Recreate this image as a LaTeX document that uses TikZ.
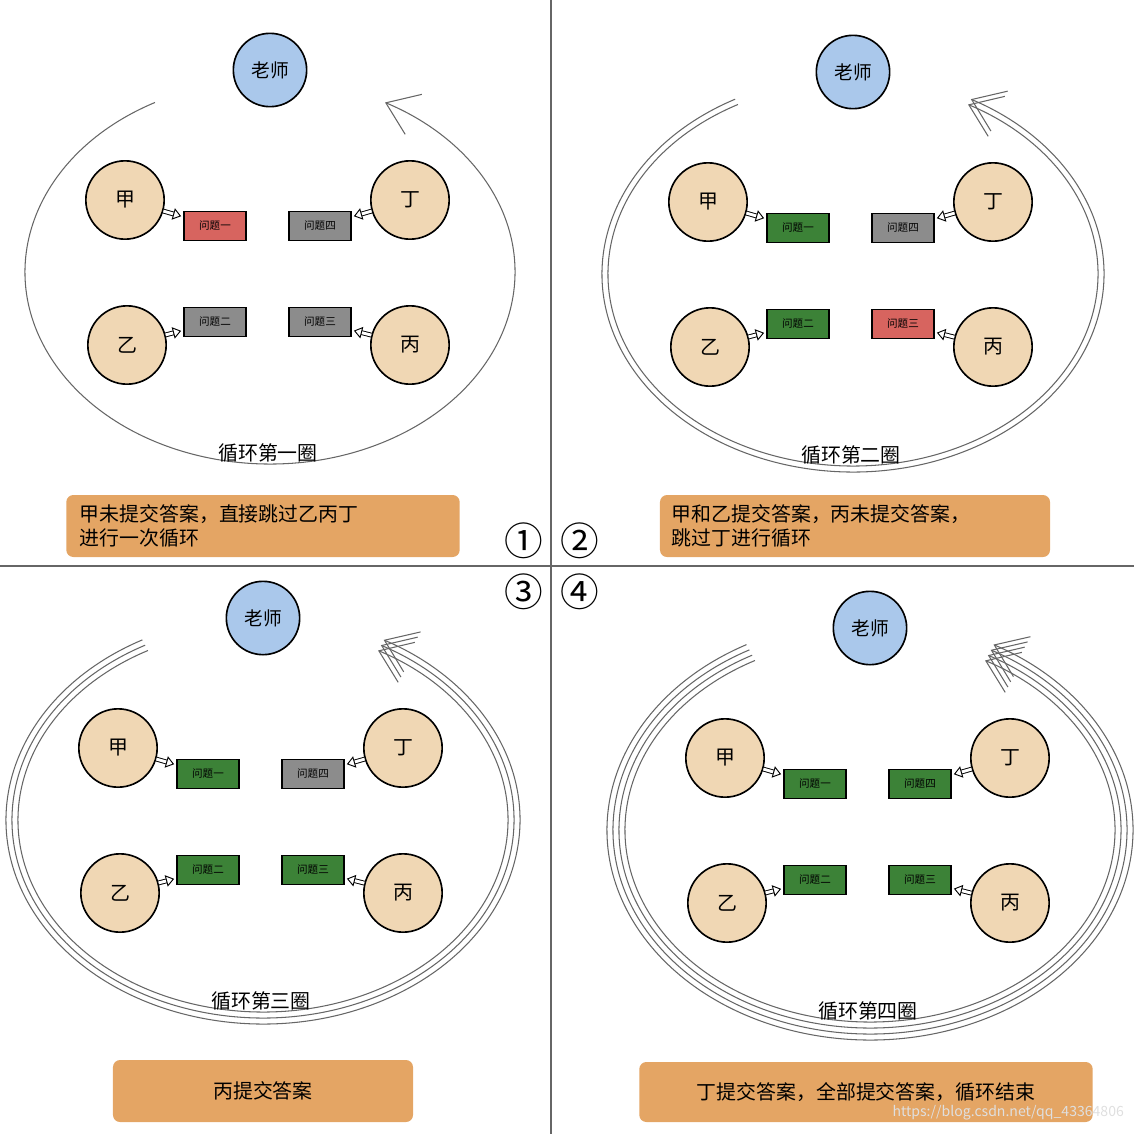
\documentclass[tikz,border=0pt]{standalone}
\usepackage{fontspec}
\setmainfont{Noto Sans CJK SC}
\usetikzlibrary{arrows.meta}
\definecolor{skin}{RGB}{240,215,180}
\definecolor{sky}{RGB}{170,200,235}
\definecolor{wrong}{RGB}{215,100,95}
\definecolor{done}{RGB}{60,130,55}
\definecolor{wait}{RGB}{140,140,140}
\definecolor{note}{RGB}{228,165,100}
\newcommand{\quarter}[8]{%%
  \begin{scope}[shift={#2}]
  %% The loop rings.
  \foreach \k in {1,...,#8}{
    \draw[ringStyle] (270,272) ++(242:{245+6*(\k-1)} and {192+6*(\k-1)})
      arc[start angle=242,end angle=-62,x radius={245+6*(\k-1)},y radius={192+6*(\k-1)}];
  };
  \node[teacherStyle] (#1t) at (270,70) {老师};
  \node[studentStyle] (#1a) at (125,200) {甲};
  \node[studentStyle] (#1d) at (410,200) {丁};
  \node[studentStyle] (#1b) at (127,345) {乙};
  \node[studentStyle] (#1c) at (410,345) {丙};
  \node[taskStyle,fill=#3] (#1p) at (215,226) {问题一};
  \node[taskStyle,fill=#4] (#1s) at (320,226) {问题四};
  \node[taskStyle,fill=#5] (#1q) at (215,322) {问题二};
  \node[taskStyle,fill=#6] (#1r) at (320,322) {问题三};
  \draw[handStyle] (#1a) -- (#1p);
  \draw[handStyle] (#1d) -- (#1s);
  \draw[handStyle] (#1b) -- (#1q);
  \draw[handStyle] (#1c) -- (#1r);
  \node[font=\fontsize{17}{20}\selectfont] (#1l) at (268,453) {#7};
  \end{scope}
}
\begin{document}
\begin{tikzpicture}[x=0.03cm,y=-0.03cm,%%
  ringStyle/.style={gray!80!black,line width=0.9pt,-{Straight Barb[length=0.9cm,width=1.3cm]}},%%
  teacherStyle/.style={circle,draw,line width=1.4pt,fill=sky,minimum size=2.2cm,font=\fontsize{16}{18}\selectfont},%%
  studentStyle/.style={circle,draw,line width=1.4pt,fill=skin,minimum size=2.35cm,font=\fontsize{17}{20}\selectfont},%%
  taskStyle/.style={draw,line width=1.3pt,minimum width=1.85cm,minimum height=0.88cm,inner sep=0pt,font=\fontsize{9}{11}\selectfont},%%
  handStyle/.style={draw=black,line width=0.8pt,double=white,double distance=2.5pt,-{Triangle[open,length=7pt,width=10pt]},shorten >=2pt},%%
  noteStyle/.style={fill=note,rounded corners=6pt,align=left,font=\fontsize{17}{21}\selectfont}
]
\useasboundingbox (0,0) rectangle (1134,1134);
%%
%% The dividers.
\coordinate (vtop) at (551,0);
\coordinate (vbot) at (551,1134);
\coordinate (hleft) at (0,566);
\coordinate (hright) at (1134,566);
\draw[gray!80!black,line width=1.5pt] (vtop) -- (vbot);
\draw[gray!80!black,line width=1.5pt] (hleft) -- (hright);
%%
%% The four rounds.
\quarter{a}{(0,0)}{wrong}{wait}{wait}{wait}{循环第一圈}{1}
\quarter{b}{(583,2)}{done}{wait}{done}{wrong}{循环第二圈}{2}
\quarter{c}{(-7,548)}{done}{wait}{done}{done}{循环第三圈}{3}
\quarter{d}{(600,558)}{done}{done}{done}{done}{循环第四圈}{4}
%%
%% The notes.
\node[noteStyle,minimum width=11.8cm,minimum height=1.86cm,text width=11cm] (anote) at (263,526) {甲未提交答案，直接跳过乙丙丁\\进行一次循环};
\node[noteStyle,minimum width=11.7cm,minimum height=1.86cm,text width=11cm] (bnote) at (855,526) {甲和乙提交答案，丙未提交答案，\\跳过丁进行循环};
\node[noteStyle,minimum width=9cm,minimum height=1.86cm,align=center] (cnote) at (263,1091) {丙提交答案};
\node[noteStyle,minimum width=13.6cm,minimum height=1.8cm,align=center] (dnote) at (866,1092) {丁提交答案，全部提交答案，循环结束};
%%
%% The round numbers.
\node[font=\fontsize{33}{35}\selectfont] (one) at (524,541) {①};
\node[font=\fontsize{33}{35}\selectfont] (two) at (580,541) {②};
\node[font=\fontsize{33}{35}\selectfont] (three) at (524,592) {③};
\node[font=\fontsize{33}{35}\selectfont] (four) at (580,592) {④};
\node[white!75!gray,anchor=east,font=\fontsize{12}{14}\selectfont] (mark) at (1128,1113) {https://blog.csdn.net/qq\_43364806};
\end{tikzpicture}
\end{document}
